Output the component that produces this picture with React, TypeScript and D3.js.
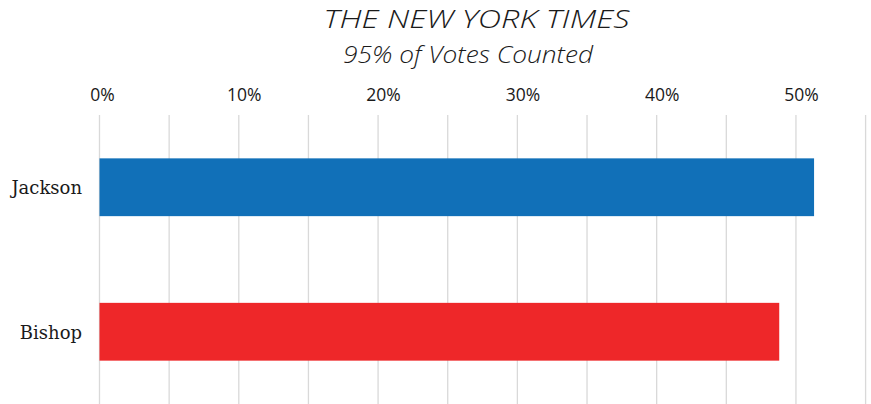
import * as d3 from "d3";
import React, { useEffect, useRef } from "react";

const candidates = ["Jackson", "Bishop"];
const shares = [0.513, 0.488];
const barColors = ["#1170b8", "#ee2729"];
const tickLabels = [0, 0.1, 0.2, 0.3, 0.4, 0.5];
const gridTicks = [0, 0.05, 0.1, 0.15, 0.2, 0.25, 0.3, 0.35, 0.4, 0.45, 0.5, 0.55];

export default function App() {
    const ref = useRef<SVGSVGElement>(null);

    useEffect(() => {
        document.body.style.margin = "0";
        const width = 871;
        const height = 404;
        const svg = d3.select(ref.current);
        svg.selectAll("*").remove();

        const x = d3.scaleLinear().domain([0, 0.55]).range([99.5, 865.6]);
        const y = d3
            .scaleBand()
            .domain(candidates)
            .range([115, height])
            .paddingInner(0.6)
            .paddingOuter(0.3);

        // title + subtitle, stretched to mimic the wide original face
        svg.append("text")
            .attr("x", 476.5)
            .attr("y", 27.5)
            .attr("text-anchor", "middle")
            .attr("textLength", 306)
            .attr("lengthAdjust", "spacingAndGlyphs")
            .style("font-family", "'Open Sans', sans-serif")
            .style("font-style", "italic")
            .style("font-weight", 300)
            .style("font-size", "25px")
            .attr("fill", "#1a1a1a")
            .text("THE NEW YORK TIMES");

        svg.append("text")
            .attr("x", 468)
            .attr("y", 63.3)
            .attr("text-anchor", "middle")
            .attr("textLength", 250)
            .attr("lengthAdjust", "spacingAndGlyphs")
            .style("font-family", "'Open Sans', sans-serif")
            .style("font-style", "italic")
            .style("font-weight", 300)
            .style("font-size", "23px")
            .attr("fill", "#1a1a1a")
            .text("95% of Votes Counted");

        // grid
        svg.append("g")
            .selectAll("line")
            .data(gridTicks)
            .enter()
            .append("line")
            .attr("x1", (d) => x(d))
            .attr("x2", (d) => x(d))
            .attr("y1", 115)
            .attr("y2", height)
            .attr("stroke", "#d9d9d9")
            .attr("stroke-width", 1.3);

        // top axis labels
        svg.append("g")
            .selectAll("text")
            .data(tickLabels)
            .enter()
            .append("text")
            .attr("x", (d) => x(d) + (d === 0 ? 3 : 5.5))
            .attr("y", 100.7)
            .attr("text-anchor", "middle")
            .style("font-family", "'Open Sans', sans-serif")
            .style("font-size", "17.5px")
            .attr("fill", "#1a1a1a")
            .text((d) => d3.format(".0%")(d));

        // bars
        svg.append("g")
            .selectAll("rect")
            .data(candidates)
            .enter()
            .append("rect")
            .attr("x", x(0))
            .attr("y", (d) => y(d)!)
            .attr("width", (d, i) => x(shares[i]) - x(0))
            .attr("height", y.bandwidth())
            .attr("fill", (d, i) => barColors[i]);

        // category labels
        svg.append("g")
            .selectAll("text")
            .data(candidates)
            .enter()
            .append("text")
            .attr("x", 82)
            .attr("y", (d) => y(d)! + y.bandwidth() / 2 + 7)
            .attr("text-anchor", "end")
            .style("font-family", "'DejaVu Serif', serif")
            .style("font-size", "18px")
            .attr("fill", "#1a1a1a")
            .text((d) => d);
    }, []);

    return <svg ref={ref} width={871} height={404} style={{ display: "block" }} />;
}
